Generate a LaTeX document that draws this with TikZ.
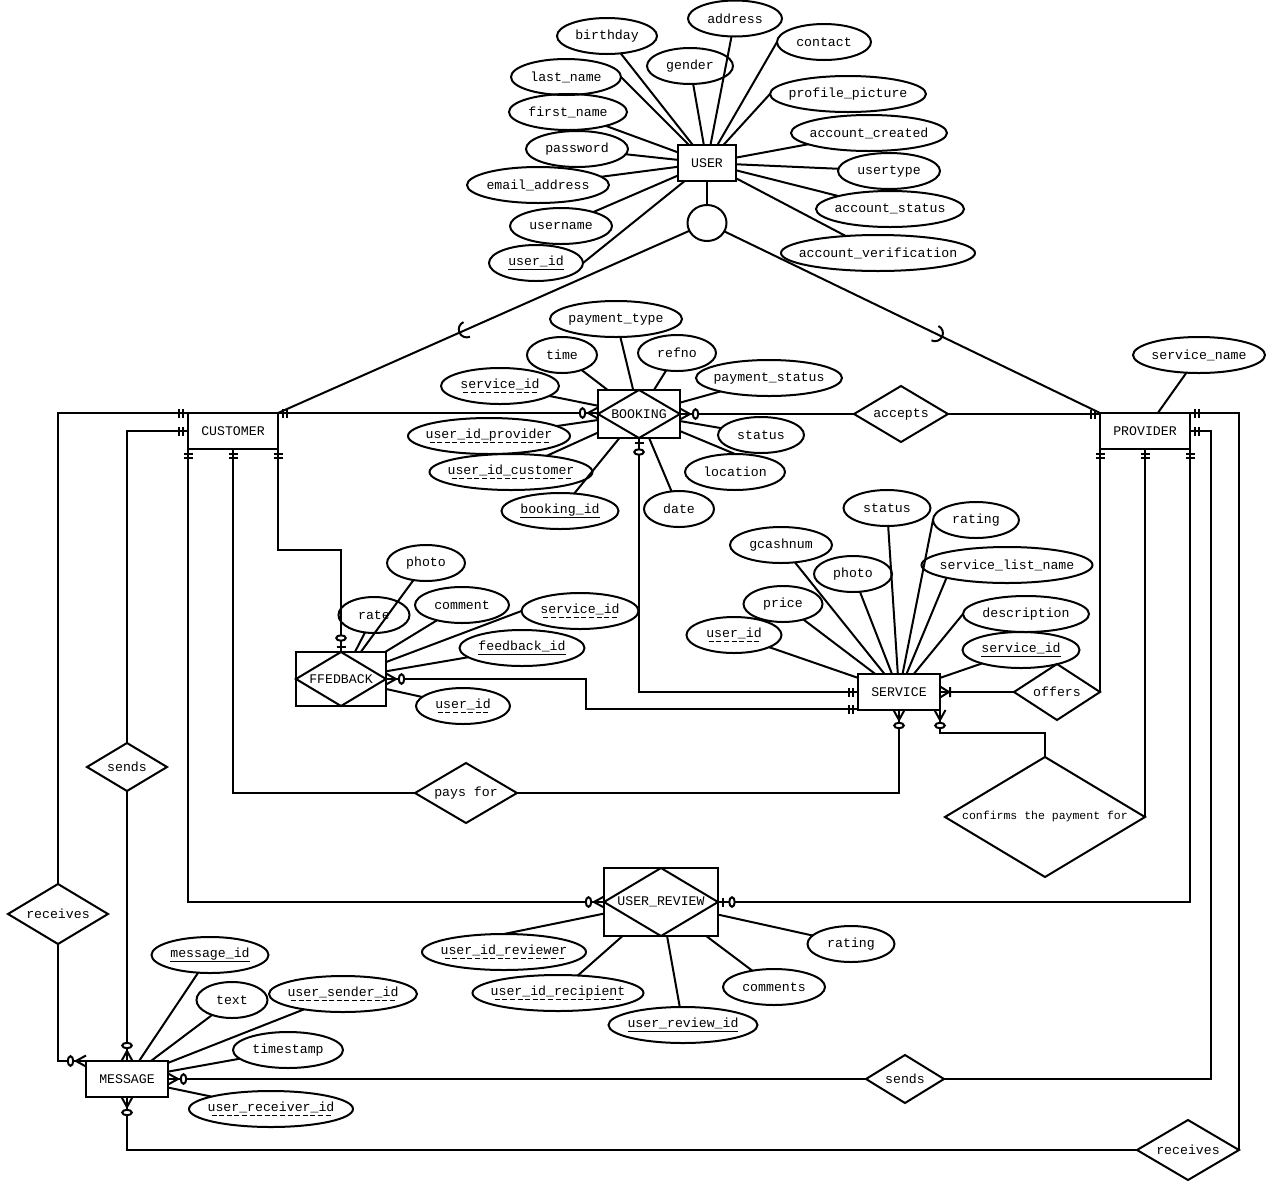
\documentclass[tikz,border=0pt]{standalone}
\usepackage{fontspec}
\setmainfont{Liberation Mono}
\usetikzlibrary{shapes.geometric,decorations.markings,calc}
\newsavebox\ulbox
\newcommand\sul[1]{\sbox\ulbox{#1}\hbox{\rlap{\usebox\ulbox}\raisebox{-4.6bp}{\rule{\wd\ulbox}{1.5bp}}}}
\newcommand\dul[1]{\sbox\ulbox{#1}\hbox{\rlap{\usebox\ulbox}\raisebox{-4.6bp}{\hbox to \wd\ulbox{\cleaders\hbox{\kern1.3bp\rule{5bp}{1.5bp}\kern1.3bp}\hfill}}}}
\newcommand\mOne[1]{\draw[xscale=#1] (-5bp,-4.5bp)--(-5bp,4.5bp) (-9bp,-4.5bp)--(-9bp,4.5bp);}
\newcommand\mZM[1]{\draw[xscale=#1] (0bp,-5.5bp)--(-10bp,0bp)--(0bp,5.5bp); \draw[xscale=#1,fill=white] (-15.5bp,0bp) ellipse [x radius=2.7bp, y radius=4.8bp];}
\newcommand\mZO[1]{\draw[xscale=#1] (-5bp,-4.5bp)--(-5bp,4.5bp); \draw[xscale=#1,fill=white] (-14bp,0bp) ellipse [x radius=2.7bp, y radius=4.8bp];}
\newcommand\mOM[1]{\draw[xscale=#1] (0bp,-5.5bp)--(-9bp,0bp)--(0bp,5.5bp) (-10bp,-5bp)--(-10bp,5bp);}
\newcommand\attrnode[4]{\node[attrib, minimum width=#3bp] (#1) at (#2) {\makebox[0pt]{#4}};}
\begin{document}
\begin{tikzpicture}[x=1bp,y=-1bp,line width=2bp,
 every node/.style={font=\fontsize{13.2bp}{15bp}\selectfont, inner sep=0pt, outer sep=0pt},
 ent/.style={draw, rectangle, minimum height=36bp},
 attrib/.style={draw, ellipse, minimum height=36bp},
 rel/.style={draw, diamond},
 startOne/.style={postaction={decorate,decoration={markings,mark=at position 0 with {\mOne{-1}}}}},
 endOne/.style={postaction={decorate,decoration={markings,mark=at position 1 with {\mOne{1}}}}},
 startZM/.style={postaction={decorate,decoration={markings,mark=at position 0 with {\mZM{-1}}}}},
 endZM/.style={postaction={decorate,decoration={markings,mark=at position 1 with {\mZM{1}}}}},
 startZO/.style={postaction={decorate,decoration={markings,mark=at position 0 with {\mZO{-1}}}}},
 endZO/.style={postaction={decorate,decoration={markings,mark=at position 1 with {\mZO{1}}}}},
 startOM/.style={postaction={decorate,decoration={markings,mark=at position 0 with {\mOM{-1}}}}}]
\fill[white] (0,0) rectangle (1266,1182);
\useasboundingbox (0,0) rectangle (1266,1182);

% entities
\node[ent, minimum width=58bp] (User) at (707,163) {USER};
\node[draw, ellipse, minimum width=39bp, minimum height=36bp] (isa) at (707,223) {};
\node[ent, minimum width=90bp] (Cust) at (233,431) {CUSTOMER};
\node[ent, minimum width=90bp] (Prov) at (1145,431) {PROVIDER};
\node[ent, minimum width=82bp] (Serv) at (899,692) {SERVICE};
\node[ent, minimum width=82bp] (Msg) at (127,1079) {MESSAGE};
\node[ent, minimum width=82bp, minimum height=48bp] (Book) at (639,414) {BOOKING};
\node[ent, minimum width=90bp, minimum height=54bp] (FB) at (341,679) {FFEDBACK};
\node[ent, minimum width=114bp, minimum height=68bp] (UR) at (661,902) {USER\_REVIEW};
\draw (Book.north) -- (Book.east) -- (Book.south) -- (Book.west) -- cycle;
\draw (FB.north) -- (FB.east) -- (FB.south) -- (FB.west) -- cycle;
\draw (UR.north) -- (UR.east) -- (UR.south) -- (UR.west) -- cycle;

% relationships
\node[rel, minimum width=94bp, minimum height=56bp] (racc) at (901,414) {\makebox[0pt]{accepts}};
\node[rel, minimum width=86bp, minimum height=56bp] (roff) at (1057,692) {\makebox[0pt]{offers}};
\node[rel, minimum width=102bp, minimum height=60bp] (rpay) at (466,793) {\makebox[0pt]{pays for}};
\node[rel, minimum width=200bp, minimum height=120bp, font=\fontsize{11.5bp}{13bp}\selectfont] (rconf) at (1045,817) {\makebox[0pt]{confirms the payment for}};
\node[rel, minimum width=80bp, minimum height=48bp] (rsendL) at (127,767) {\makebox[0pt]{sends}};
\node[rel, minimum width=100bp, minimum height=60bp] (rrecvL) at (58,914) {\makebox[0pt]{receives}};
\node[rel, minimum width=78bp, minimum height=48bp] (rsendR) at (905,1079) {\makebox[0pt]{sends}};
\node[rel, minimum width=102bp, minimum height=60bp] (rrecvR) at (1188,1150) {\makebox[0pt]{receives}};

% USER attributes
\attrnode{ubday}{607,36}{100}{birthday}
\attrnode{uaddr}{735,18.5}{94}{address}
\attrnode{ugender}{690,66}{86}{gender}
\attrnode{ucontact}{824,42}{94}{contact}
\attrnode{ulname}{566,77}{110}{last\_name}
\attrnode{upic}{848,94}{156}{profile\_picture}
\attrnode{ufname}{568,112}{118}{first\_name}
\attrnode{ucreated}{869,133}{156}{account\_created}
\attrnode{upass}{577,149}{102}{password}
\attrnode{utype}{889,171}{102}{usertype}
\attrnode{uemail}{538,185}{142}{email\_address}
\attrnode{ustatus}{890,209}{148}{account\_status}
\attrnode{uuname}{561,226}{102}{username}
\attrnode{uverif}{878,253}{194}{account\_verification}
\attrnode{uid}{536,263}{94}{\sul{user\_id}}
\foreach \a in {ubday,uaddr,ugender,ufname,ucreated,upass,utype,uemail,ustatus,uuname,uverif}
  \draw (\a) -- (User);
\draw (ulname.east) -- (User);
\draw (ucontact.west) -- (User);
\draw (upic.west) -- (User);
\draw (uid.east) -- (User);
\draw (User) -- (isa);

% BOOKING attributes
\attrnode{bptype}{616,319}{132}{payment\_type}
\attrnode{btime}{562,355}{70}{time}
\attrnode{brefno}{677,353}{78}{refno}
\attrnode{bpstatus}{769,378}{146}{payment\_status}
\attrnode{bsid}{500,386}{118}{\dul{service\_id}}
\attrnode{bstatus}{761,435}{86}{status}
\attrnode{bprov}{489,436}{162}{\dul{user\_id\_provider}}
\attrnode{bloc}{735,472}{100}{location}
\attrnode{bcust}{511,472}{163}{\dul{user\_id\_customer}}
\attrnode{bdate}{679,509}{70}{date}
\attrnode{bid}{560,511}{117}{\sul{booking\_id}}
\foreach \a in {bptype,btime,brefno,bpstatus,bsid,bstatus,bprov,bcust,bdate,bid}
  \draw (\a) -- (Book);
\draw (bloc.north) -- (Book);

% FFEDBACK attributes
\attrnode{fphoto}{426,563}{78}{photo}
\attrnode{frate}{374,615}{71}{rate}
\attrnode{fcomment}{462,605}{94}{comment}
\attrnode{fsid}{580,611}{117}{\dul{service\_id}}
\attrnode{fid}{522,648}{125}{\sul{feedback\_id}}
\attrnode{fuid}{463,706}{94}{\dul{user\_id}}
\foreach \a in {fphoto,frate,fcomment,fid,fuid}
  \draw (\a) -- (FB);
\draw (fsid.west) -- (FB);

% SERVICE attributes
\attrnode{sstatus}{887,508}{87}{status}
\attrnode{srating}{976,520}{86}{rating}
\attrnode{sgcash}{781,545}{102}{gcashnum}
\attrnode{sphoto}{853,574}{78}{photo}
\attrnode{slist}{1007,565}{171}{service\_list\_name}
\attrnode{sprice}{783,604}{79}{price}
\attrnode{sdesc}{1026,614}{126}{description}
\attrnode{suid}{734,635}{95}{\dul{user\_id}}
\attrnode{ssid}{1021,650}{117}{\sul{service\_id}}
\foreach \a in {sstatus,sgcash,sphoto,sprice,suid,ssid}
  \draw (\a) -- (Serv);
\draw (srating.west) -- (Serv);
\draw (slist.south west) -- (Serv);
\draw (sdesc.west) -- (Serv);

% PROVIDER attribute
\attrnode{pname}{1199,355}{132}{service\_name}
\draw (pname) -- (Prov);

% USER_REVIEW attributes
\attrnode{rrev}{504,952}{164}{\dul{user\_id\_reviewer}}
\attrnode{rrec}{558,993}{171}{\dul{user\_id\_recipient}}
\attrnode{rid}{683,1025}{149}{\sul{user\_review\_id}}
\attrnode{rcomm}{774,987}{102}{comments}
\attrnode{rrating}{851,944}{87}{rating}
\foreach \a in {rrec,rid,rcomm,rrating}
  \draw (\a) -- (UR);
\draw (rrev.north) -- (UR);

% MESSAGE attributes
\attrnode{mid}{210,955}{117}{\sul{message\_id}}
\attrnode{mtext}{232,1000}{71}{text}
\attrnode{msend}{343,994}{148}{\dul{user\_sender\_id}}
\attrnode{mtime}{288,1050}{110}{timestamp}
\attrnode{mrecv}{271,1109}{164}{\dul{user\_receiver\_id}}
\foreach \a in {mid,mtext,msend,mtime,mrecv}
  \draw (\a) -- (Msg);

% specialisation
\draw (isa) -- (Cust.north east);
\draw (isa) -- (Prov.north west);
\coordinate (k1) at ($(Cust.north east)!0.44!(isa)$);
\coordinate (k2) at ($(Prov.north west)!0.42!(isa)$);
\draw let \p1=($(isa)-(k1)$), \n1={atan2(\y1,\x1)} in ($(k1)+(\n1+90:8bp)$) arc[start angle=\n1+90, delta angle=180, radius=8bp];
\draw let \p1=($(isa)-(k2)$), \n1={atan2(\y1,\x1)} in ($(k2)+(\n1+90:8bp)$) arc[start angle=\n1+90, delta angle=180, radius=8bp];

% relationship connectors
\coordinate (kFB) at (586,709);
\coordinate (railA) at (1211,431);
\draw[startOne,endZM] (Cust.north east) -- (Cust.north east -| Book.west);
\draw[startZM] (Book.east) -- (racc.west);
\draw[endOne] (racc.east) -- (racc.east -| Prov.west);
\draw[startZO,endOne] (Book.south) |- (Serv.west);
\draw[startZM,endOne] (FB.east) -| (kFB) -- (kFB -| Serv.west);
\draw[startOM] (Serv.east) -- (roff.west);
\draw[endOne] (roff.east) -| (Prov.south west);
\draw[startZM] (Serv.south) |- (rpay.east);
\draw[endOne] (rpay.west) -| (Cust.south);
\draw[startZM] (Serv.south east) -- ++(0,23) -| (rconf.north);
\draw[endOne] (rconf.east) -| (Prov.south);
\draw[startOne,endZM] (Cust.south west) |- (UR.west);
\draw[startZO,endOne] (UR.east) -| (Prov.south east);
\draw[startOne,endZO] (Cust.south east) -- ++(0,101) -| (FB.north);
\draw[startOne] (Cust.north west) -| (rrecvL.north);
\draw[startOne] (Cust.west) -| (rsendL.north);
\draw[endZM] (rsendL.south) -- (Msg.north);
\draw[endZM] (rrecvL.south) |- (Msg.north west);
\draw[startZM] (Msg.east) -- (rsendR.west);
\draw[endOne] (rsendR.east) -| (railA) -- (Prov.east);
\draw[startZM] (Msg.south) |- (rrecvR.west);
\draw[endOne] (rrecvR.east) |- (Prov.north east);
\end{tikzpicture}
\end{document}
